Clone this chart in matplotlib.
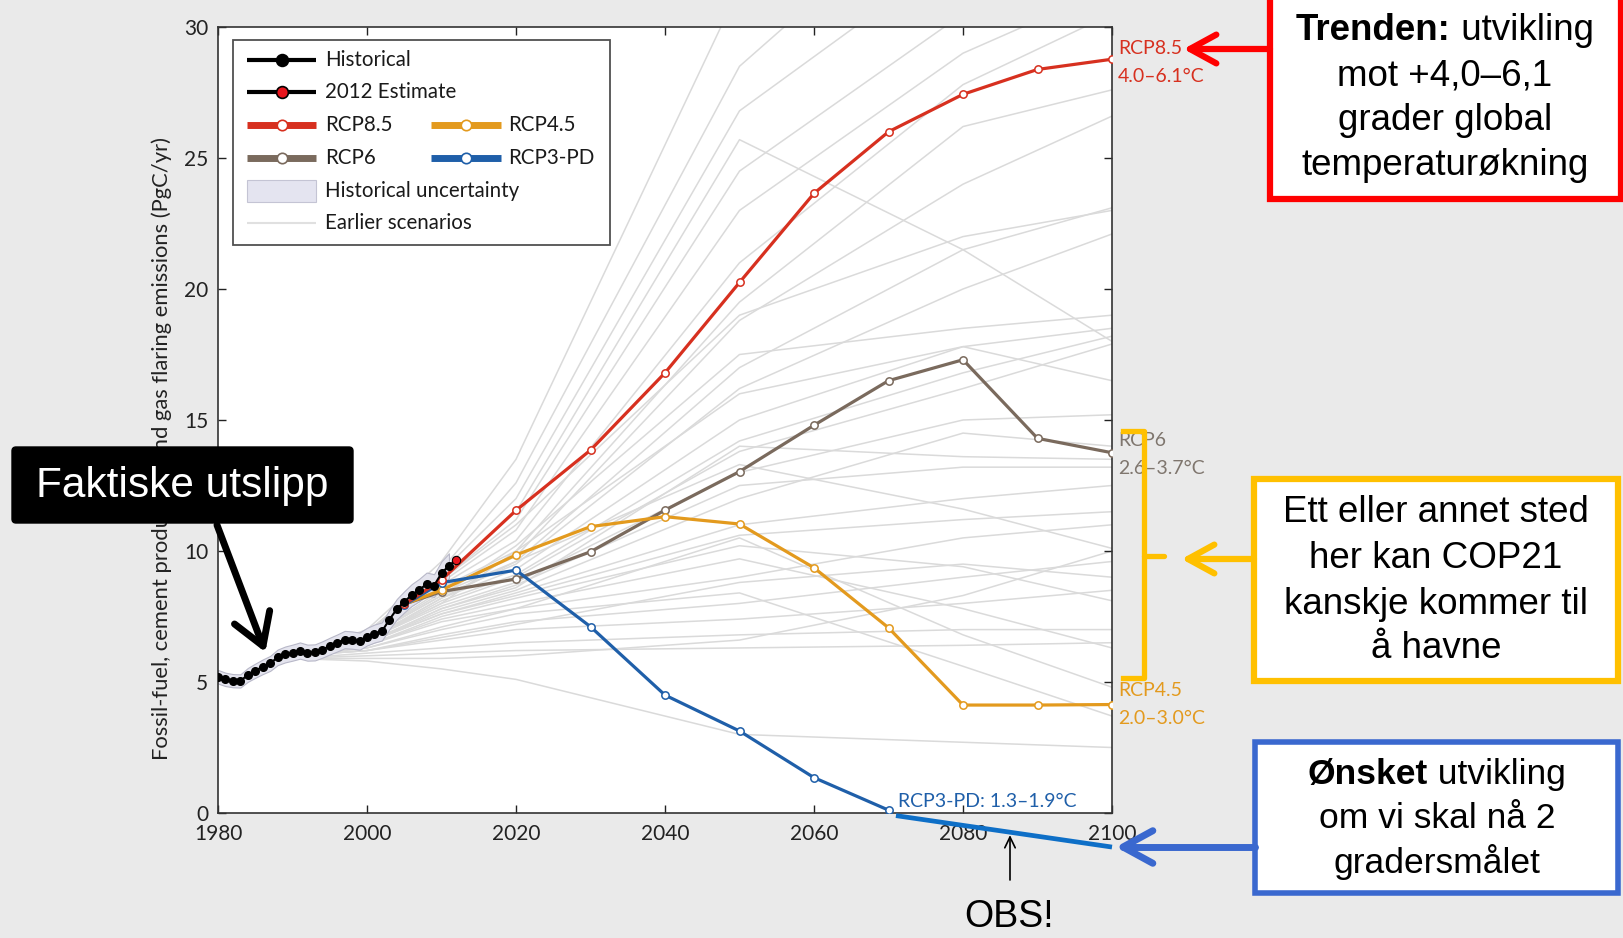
import numpy as np
import matplotlib
matplotlib.use("Agg")
import matplotlib.pyplot as plt
from matplotlib.lines import Line2D
from matplotlib.patches import Rectangle, FancyBboxPatch
from matplotlib.transforms import Affine2D

# ---------------- data ----------------
hist_years = list(range(1980, 2012))
hist_values = [5.20, 5.10, 5.05, 5.04, 5.27, 5.43, 5.58, 5.71, 5.94, 6.05,
               6.12, 6.20, 6.12, 6.13, 6.24, 6.37, 6.49, 6.62, 6.60, 6.56,
               6.73, 6.85, 6.93, 7.38, 7.78, 8.06, 8.32, 8.51, 8.74, 8.68,
               9.15, 9.44]
hist_rel_uncertainty = 0.05
est_year = 2012
est_value = 9.66

rcp_years = [2005, 2010, 2020, 2030, 2040, 2050, 2060, 2070, 2080, 2090, 2100]
rcp85 = [7.97, 8.90, 11.55, 13.85, 16.80, 20.25, 23.65, 26.00, 27.43, 28.38, 28.77]
rcp6 = [7.97, 8.45, 8.93, 9.97, 11.56, 13.03, 14.80, 16.50, 17.30, 14.30, 13.75]
rcp45 = [7.97, 8.51, 9.85, 10.93, 11.31, 11.03, 9.36, 7.07, 4.12, 4.12, 4.14]
rcp3pd_years = [2005, 2010, 2020, 2030, 2040, 2050, 2060, 2070]
rcp3pd = [7.94, 8.79, 9.27, 7.11, 4.50, 3.13, 1.35, 0.11]
# continuation of RCP3-PD below zero
tail_years = [2071, 2100]
tail_values = [-0.10, -1.30]

earlier_years = [1990, 2000, 2010, 2020, 2050, 2080, 2100]
earlier_scenarios = [
    [6.0, 7.0, 9.6, 13.5, 31.5, 40.0, 45.0],
    [6.0, 6.9, 9.3, 12.6, 28.5, 36.0, 40.0],
    [6.0, 6.9, 9.2, 12.0, 26.8, 33.0, 36.0],
    [6.0, 6.9, 9.0, 11.5, 25.7, 21.5, 18.0],
    [6.0, 6.8, 8.9, 11.2, 24.5, 30.5, 33.0],
    [6.0, 6.8, 8.8, 10.8, 23.0, 29.0, 31.5],
    [6.0, 6.8, 8.7, 10.4, 21.0, 27.8, 30.5],
    [6.0, 6.8, 8.6, 10.0, 19.5, 26.2, 27.6],
    [6.0, 6.7, 8.5, 9.8, 18.8, 24.0, 26.6],
    [6.0, 6.7, 8.4, 9.6, 17.0, 21.5, 23.1],
    [6.0, 6.7, 8.3, 9.5, 16.2, 20.0, 22.1],
    [6.0, 6.7, 8.3, 10.2, 17.5, 18.5, 19.0],
    [6.0, 6.6, 8.2, 9.3, 15.0, 17.8, 18.5],
    [6.0, 6.6, 8.1, 9.1, 14.2, 16.8, 18.2],
    [6.0, 6.6, 8.0, 9.0, 13.8, 16.2, 17.9],
    [6.0, 6.6, 8.0, 10.0, 16.0, 17.8, 16.5],
    [6.0, 6.6, 7.9, 8.8, 13.0, 15.0, 15.2],
    [6.0, 6.5, 7.8, 8.6, 14.0, 13.6, 13.5],
    [6.0, 6.5, 7.8, 8.7, 12.5, 13.2, 13.2],
    [6.0, 6.5, 7.7, 8.5, 12.0, 14.5, 14.0],
    [6.0, 6.6, 8.2, 9.6, 13.3, 11.6, 10.1],
    [6.0, 6.5, 7.6, 8.4, 11.0, 12.0, 12.5],
    [6.0, 6.5, 7.6, 8.3, 10.6, 11.2, 11.5],
    [6.0, 6.4, 7.5, 8.2, 10.2, 9.4, 8.1],
    [6.0, 6.4, 7.4, 8.0, 9.7, 7.8, 6.3],
    [6.0, 6.4, 7.3, 7.8, 10.5, 6.8, 4.8],
    [6.0, 6.3, 7.0, 7.6, 8.4, 5.6, 3.7],
    [6.0, 6.2, 6.8, 7.3, 8.0, 9.0, 9.6],
    [6.0, 6.2, 6.6, 7.0, 7.4, 8.0, 8.5],
    [5.9, 6.1, 6.3, 6.5, 6.8, 7.0, 7.0],
    [5.9, 6.0, 6.1, 6.2, 6.3, 6.4, 6.5],
    [5.9, 5.8, 5.5, 5.1, 3.0, 2.7, 2.5],
    [5.9, 5.9, 5.9, 6.0, 6.6, 8.3, 10.0],
    [6.0, 6.3, 7.1, 7.8, 9.0, 10.5, 11.0],
    [6.0, 6.8, 8.9, 11.0, 19.0, 22.0, 23.0],
    [6.0, 6.2, 6.7, 7.2, 8.8, 9.5, 9.0],
]

x_ticks = [1980, 2000, 2020, 2040, 2060, 2080, 2100]
y_ticks = [0, 5, 10, 15, 20, 25, 30]

# ---------------- styling ----------------
W, H = 1623, 938
C85, C6, C45, C3 = "#d7301f", "#7a6a5d", "#e39a1e", "#1f5fa9"
GREY = "#dadada"
CHART_FONT = "Lato"
NOTE_FONT = "Liberation Sans"

plt.rcParams["font.family"] = [CHART_FONT, "DejaVu Sans"]

fig = plt.figure(figsize=(W / 100, H / 100), dpi=100, facecolor="#eaeaea")
px = Affine2D().scale(1 / W, -1 / H).translate(0, 1) + fig.transFigure

ax_l, ax_r, ax_t, ax_b = 218, 1112, 27, 813
ax = fig.add_axes([ax_l / W, 1 - ax_b / H, (ax_r - ax_l) / W, (ax_b - ax_t) / H])
ax.set_facecolor("white")

for vals in earlier_scenarios:
    ax.plot(earlier_years, vals, color=GREY, lw=1.1, zorder=1)

hist = np.array(hist_values)
ax.fill_between(hist_years, hist * (1 - hist_rel_uncertainty), hist * (1 + hist_rel_uncertainty),
                facecolor="#e4e4ee", edgecolor="#b8b8c8", lw=0.8, zorder=2)

mk = dict(marker="o", ms=5.3, mfc="white", mew=1.1, lw=2.3, zorder=4)
ax.plot(rcp_years, rcp6, color=C6, mec=C6, **mk)
ax.plot(rcp_years, rcp45, color=C45, mec=C45, **mk)
ax.plot(rcp3pd_years, rcp3pd, color=C3, mec=C3, **mk)
ax.plot(rcp_years, rcp85, color=C85, mec=C85, **mk)

ax.plot(hist_years + [est_year], hist_values + [est_value], color="black", lw=1.5, zorder=6)
ax.plot(hist_years, hist_values, "o", color="black", ms=5.5, zorder=7)
ax.plot([est_year], [est_value], "o", mfc="#e8141c", mec="black", mew=0.8, ms=6, zorder=8)

ax.plot(tail_years, tail_values, color="#0e6fc7", lw=3.4, solid_capstyle="butt",
        clip_on=False, zorder=9)

ax.set_xlim(1980, 2100)
ax.set_ylim(0, 30)
ax.set_xticks(x_ticks)
ax.set_yticks(y_ticks)
ax.tick_params(direction="in", length=6, width=1, top=True, right=True,
               labelsize=15, colors="#222222")
ax.tick_params(axis="x", pad=8)
ax.tick_params(axis="y", pad=7)
for s in ax.spines.values():
    s.set_color("#333333")
    s.set_linewidth(1.2)
ax.set_ylabel("Fossil-fuel, cement production and gas flaring emissions (PgC/yr)",
              fontsize=15.8, color="#222222")
ax.yaxis.set_label_coords(-0.051, 0.464)

ax.text(2071.3, 0.42, "RCP3-PD: 1.3\u20131.9\u00b0C", color=C3, fontsize=14, va="center",
        ha="left", zorder=10)

# scenario labels beside the right spine
side = [("RCP8.5", 48, C85), ("4.0\u20136.1\u00b0C", 76, C85),
        ("RCP6", 440, "#7f766e"), ("2.6\u20133.7\u00b0C", 468, "#7f766e"),
        ("RCP4.5", 691, C45), ("2.0\u20133.0\u00b0C", 718, C45)]
for txt, y, c in side:
    fig.text(1118 / W, 1 - y / H, txt, color=c, fontsize=14, ha="left", va="center")

# ---------------- legend ----------------
fig.add_artist(Rectangle((233, 40), 377, 205, transform=px, facecolor="white",
                         edgecolor="#505050", lw=1.3, zorder=20))
rows = [60, 92, 125, 158, 191, 223]
c1 = (247, 316, 325)
c2 = (431, 501, 508)


def leg_line(col, y, color, lw, mfc=None, mec=None, ms=0):
    x0, x1, _ = col
    fig.add_artist(Line2D([x0, x1], [y, y], transform=px, color=color, lw=lw,
                          solid_capstyle="butt", zorder=21))
    if ms:
        fig.add_artist(Line2D([(x0 + x1) / 2], [y], transform=px, marker="o", ms=ms,
                              mfc=mfc, mec=mec, mew=1.2, lw=0, zorder=22))


def leg_text(col, y, s):
    fig.text(col[2] / W, 1 - y / H, s, fontsize=14.8, ha="left", va="center",
             color="#1a1a1a", zorder=22)


leg_line(c1, rows[0], "black", 3, "black", "black", 8.5)
leg_text(c1, rows[0], "Historical")
leg_line(c1, rows[1], "black", 3, "#e8141c", "black", 8.5)
leg_text(c1, rows[1], "2012 Estimate")
leg_line(c1, rows[2], C85, 5, "white", C85, 7.5)
leg_text(c1, rows[2], "RCP8.5")
leg_line(c1, rows[3], C6, 5, "white", C6, 7.5)
leg_text(c1, rows[3], "RCP6")
leg_line(c2, rows[2], C45, 5, "white", C45, 7.5)
leg_text(c2, rows[2], "RCP4.5")
leg_line(c2, rows[3], C3, 5, "white", C3, 7.5)
leg_text(c2, rows[3], "RCP3-PD")
fig.add_artist(Rectangle((c1[0], rows[4] - 11), c1[1] - c1[0], 22, transform=px,
                         facecolor="#e4e4f0", edgecolor="#c4c4d4", lw=0.8, zorder=21))
leg_text(c1, rows[4], "Historical uncertainty")
leg_line(c1, rows[5], "#e0e0e0", 1.5)
leg_text(c1, rows[5], "Earlier scenarios")


# ---------------- annotations ----------------
def arrow(p0, p1, color, lw, head=34, spread=0.5):
    (x0, y0), (x1, y1) = p0, p1
    d = np.array([x1 - x0, y1 - y0], float)
    d /= np.hypot(*d)
    n = np.array([-d[1], d[0]])
    back = np.array([x1, y1]) - d * head * np.cos(spread)
    a = back + n * head * np.sin(spread)
    b = back - n * head * np.sin(spread)
    kw = dict(transform=px, color=color, lw=lw, solid_capstyle="round",
              solid_joinstyle="round", zorder=30)
    fig.add_artist(Line2D([x0, x1], [y0, y1], **kw))
    fig.add_artist(Line2D([a[0], x1, b[0]], [a[1], y1, b[1]], **kw))


def box(x0, y0, x1, y1, edge, lw):
    fig.add_artist(Rectangle((x0, y0), x1 - x0, y1 - y0, transform=px, facecolor="white",
                             edgecolor=edge, lw=lw, zorder=30))


def centered_line(cx, cy, parts, size):
    r = fig.canvas.get_renderer()
    texts = [fig.text(0, 0, s, fontsize=size, weight=w, family=NOTE_FONT,
                      ha="left", va="center", color="black", zorder=31) for s, w in parts]
    widths = [t.get_window_extent(r).width for t in texts]
    x = cx - sum(widths) / 2
    for t, w in zip(texts, widths):
        t.set_position((x / W, 1 - cy / H))
        x += w


# trend box (red)
box(1270, -10, 1621, 199, "#ff0000", 4.5)
centered_line(1445, 31, [("Trenden:", "bold"), (" utvikling", "normal")], 26.5)
centered_line(1445, 76, [("mot +4,0\u20136,1", "normal")], 26.5)
centered_line(1445, 120, [("grader global", "normal")], 26.5)
centered_line(1445, 165, [("temperatur\u00f8kning", "normal")], 26.5)
arrow((1270, 49), (1190, 49), "#ff0000", 4.5, head=30)

# COP21 box (yellow)
YEL = "#ffc000"
box(1254, 479, 1618, 681, YEL, 4.5)
for s, y in [("Ett eller annet sted", 513), ("her kan COP21", 558),
             ("kanskje kommer til", 604), ("\u00e5 havne", 648)]:
    centered_line(1436, y, [(s, "normal")], 26.5)
arrow((1254, 559), (1188, 559), YEL, 4.5, head=30)
fig.add_artist(Line2D([1123, 1144, 1144, 1123], [431, 431, 678, 678], transform=px,
                      color=YEL, lw=3.8, solid_joinstyle="round", zorder=30))
fig.add_artist(Line2D([1144, 1164], [556, 556], transform=px, color=YEL, lw=3.8,
                      solid_capstyle="round", zorder=30))

# 2-degree box (blue)
BLU = "#3a68cf"
box(1255, 742, 1618, 893, BLU, 4)
centered_line(1437, 774, [("\u00d8nsket", "bold"), (" utvikling", "normal")], 25.5)
centered_line(1437, 818, [("om vi skal n\u00e5 2", "normal")], 25.5)
centered_line(1437, 862, [("gradersm\u00e5let", "normal")], 25.5)
arrow((1255, 847), (1123, 847), BLU, 5, head=34)

# actual emissions box (black)
fig.add_artist(FancyBboxPatch((12, 447), 341, 76, boxstyle="round,pad=0,rounding_size=4",
                              transform=px, facecolor="black", edgecolor="black", zorder=30))
fig.text(182 / W, 1 - 486 / H, "Faktiske utslipp", color="white", fontsize=30.5,
         family=NOTE_FONT, ha="center", va="center", zorder=31)
arrow((217, 525), (263, 646), "black", 5, head=36, spread=0.55)

# OBS marker
arrow((1010, 880), (1010, 837), "black", 1.2, head=12, spread=0.45)
fig.text(1009 / W, 1 - 917 / H, "OBS!", fontsize=27, family=NOTE_FONT,
         ha="center", va="center", color="black", zorder=31)

fig.savefig("out.png", dpi=100, facecolor=fig.get_facecolor())
